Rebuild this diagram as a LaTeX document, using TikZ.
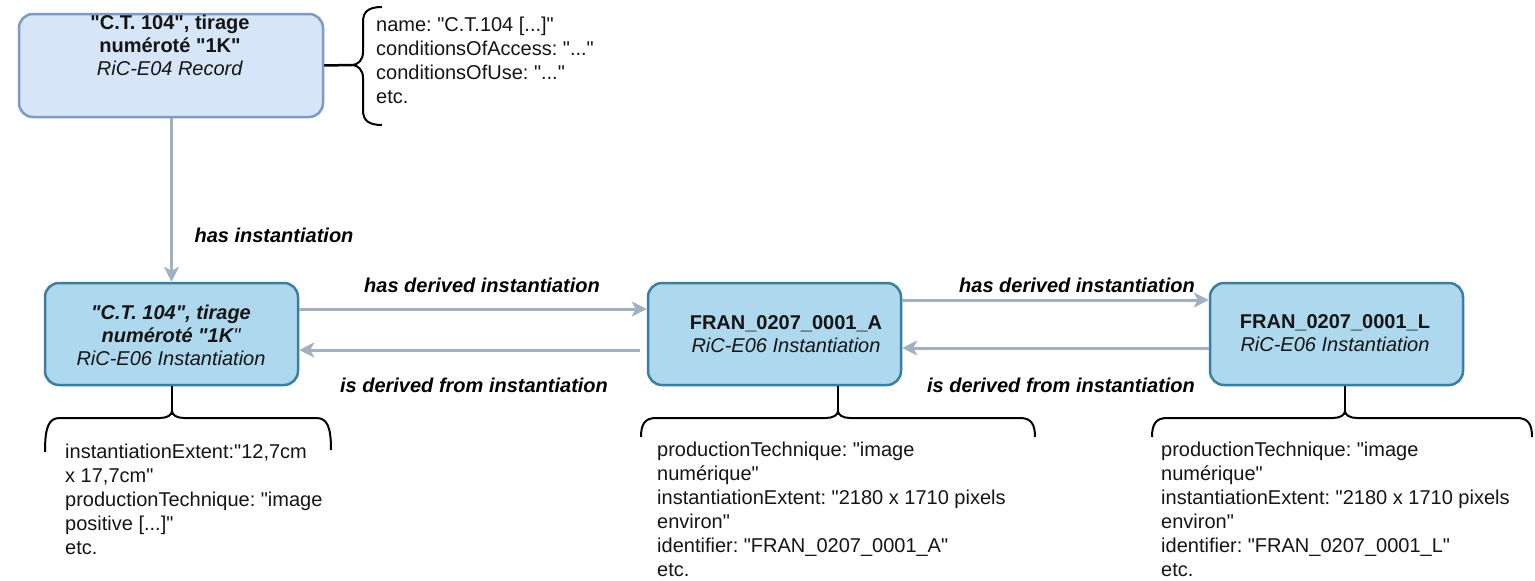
\documentclass[tikz,border=0pt]{standalone}
\usepackage{fontspec}
\newfontfamily\arialf{Liberation Sans}
\usetikzlibrary{arrows.meta}
\definecolor{recfill}{HTML}{D6E5F8}
\definecolor{recdraw}{HTML}{7D9AC0}
\definecolor{insfill}{HTML}{ADD8EE}
\definecolor{insdraw}{HTML}{3A7EA0}
\definecolor{arrcol}{HTML}{A3B0C2}
\definecolor{txt}{HTML}{151515}
\frenchspacing
\begin{document}
\begin{tikzpicture}[x=1pt,y=-1pt,
  recbox/.style={draw=recdraw, fill=recfill, line width=2.5pt, rounded corners=14pt, minimum width=304pt, minimum height=103pt, inner sep=0pt},
  insbox/.style={draw=insdraw, fill=insfill, line width=2.5pt, rounded corners=14pt, minimum width=253pt, minimum height=102pt, inner sep=0pt},
  boxtext/.style={inner sep=0pt, align=center, anchor=north, text=txt, font=\arialf\frenchspacing\fontsize{20}{23}\selectfont},
  lbl/.style={inner sep=0pt, font=\arialf\frenchspacing\fontsize{20}{24}\selectfont\bfseries\itshape, text=black},
  attr/.style={inner sep=0pt, align=left, anchor=north west, text=txt, font=\arialf\frenchspacing\fontsize{20}{24}\selectfont},
  arr/.style={draw=arrcol, line width=3pt, -{Stealth[length=15pt,width=15pt,inset=4pt]}},
  brace/.style={draw=black, line width=2pt},
  link/.style={draw=black, line width=2.5pt}
]
\useasboundingbox[fill=white] (0,0) rectangle (1535,581);

% boxes
\node[recbox] (rec) at (171,65.5) {};
\node[insbox] (box1) at (171.5,334) {};
\node[insbox] (box2) at (774.5,334) {};
\node[insbox] (box3) at (1336.5,334) {};

% box texts
\node[boxtext] (rect) at (170,15) {\textbf{"C.T. 104", tirage}\\\textbf{numéroté "1K"}\\\textit{RiC-E04 Record}};
\node[boxtext, font=\arialf\frenchspacing\fontsize{20}{23}\selectfont\itshape] (box1t) at (171,305) {\textbf{"C.T. 104", tirage}\\\textbf{numéroté "1K}"\\RiC-E06 Instantiation};
\node[boxtext] (box2t) at (786,315) {\textbf{FRAN\_0207\_0001\_A}\\\textit{RiC-E06 Instantiation}};
\node[boxtext] (box3t) at (1335,314) {\textbf{FRAN\_0207\_0001\_L}\\\textit{RiC-E06 Instantiation}};

% arrows
\draw[arr] (rec.south -| box1.north) -- (box1.north);
\draw[arr] ([yshift=25pt]box1.east) -- ([yshift=25pt]box2.west);
\draw[arr, shorten <=7pt] ([yshift=-16pt]box2.west) -- ([yshift=-16pt]box1.east);
\draw[arr] ([yshift=34pt]box2.east) -- ([yshift=34pt]box3.west);
\draw[arr] ([yshift=-14pt]box3.west) -- ([yshift=-14pt]box2.east);

% labels
\node[lbl] (l0) at (274,235) {has instantiation};
\node[lbl] (l1) at (482,285) {has derived instantiation};
\node[lbl] (l2) at (474,385) {is derived from instantiation};
\node[lbl] (l3) at (1077,285) {has derived instantiation};
\node[lbl] (l4) at (1061,385) {is derived from instantiation};

% braces
\coordinate (rb) at (352,65);
\coordinate (b1) at (172,411);
\coordinate (b2) at (838,411);
\coordinate (b3) at (1345,411);
\draw[brace] (382,7) .. controls (368,7) and (363,12) .. (363,22) -- (363,52) .. controls (363,60) and (358,65) .. (rb) .. controls (358,65) and (363,70) .. (363,78) -- (363,110) .. controls (363,120) and (368,125) .. (382,125);
\draw[brace] (45,452) .. controls (45,426) and (49,418) .. (60,418) -- (160,418) .. controls (167,418) and (172,415) .. (b1) .. controls (172,415) and (177,418) .. (184,418) -- (316,418) .. controls (327,418) and (331,426) .. (331,450);
\draw[brace] (641,437) .. controls (641,424) and (645,418) .. (656,418) -- (826,418) .. controls (833,418) and (838,415) .. (b2) .. controls (838,415) and (843,418) .. (850,418) -- (1020,418) .. controls (1031,418) and (1035,424) .. (1035,437);
\draw[brace] (1152,437) .. controls (1152,424) and (1156,418) .. (1167,418) -- (1333,418) .. controls (1340,418) and (1345,415) .. (b3) .. controls (1345,415) and (1350,418) .. (1357,418) -- (1517,418) .. controls (1528,418) and (1532,424) .. (1532,437);

% links to braces
\draw[link] (rec.east) -- (rb);
\draw[link] (box1.south -| b1) -- (b1);
\draw[link] (box2.south -| b2) -- (b2);
\draw[link] (box3.south -| b3) -- (b3);

% attribute texts
\node[attr] (a0) at (376,17) {name: "C.T.104 [...]"\\conditionsOfAccess: "..."\\conditionsOfUse: "..."\\etc.};
\node[attr] (a1) at (65,444) {instantiationExtent:"12,7cm\\x 17,7cm"\\productionTechnique: "image\\positive [...]"\\etc.};
\node[attr] (a2) at (657,442) {productionTechnique: "image\\numérique"\\instantiationExtent: "2180 x 1710 pixels\\environ"\\identifier: "FRAN\_0207\_0001\_A"\\etc.};
\node[attr] (a3) at (1161,442) {productionTechnique: "image\\numérique"\\instantiationExtent: "2180 x 1710 pixels\\environ"\\identifier: "FRAN\_0207\_0001\_L"\\etc.};
\end{tikzpicture}
\end{document}
